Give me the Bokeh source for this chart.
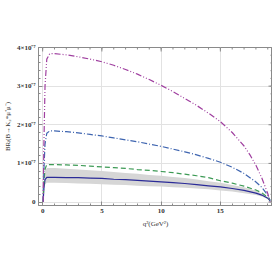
from bokeh.plotting import figure
from bokeh.models import FixedTicker, Range1d
from bokeh.embed import file_html
from bokeh.resources import INLINE

# q^2 in GeV^2, branching ratios in units of 1e-7
q2_purple = [0.045, 0.1, 0.2, 0.35, 0.6, 1, 2, 3, 4, 5, 6, 7, 8, 9, 10, 11, 12, 13, 14, 15, 16, 17, 17.5, 18, 18.5, 19, 19.2]
br_purple = [0.0, 1.4, 3.0, 3.7, 3.84, 3.84, 3.81, 3.76, 3.7, 3.63, 3.54, 3.43, 3.31, 3.17, 3.02, 2.86, 2.68, 2.5, 2.3, 2.08, 1.8, 1.45, 1.22, 0.95, 0.62, 0.22, 0.0]

q2_blue = [0.045, 0.1, 0.2, 0.35, 0.6, 1, 2, 3, 4, 5, 6, 7, 8, 9, 10, 11, 12, 13, 14, 15, 16, 17, 18, 18.5, 19, 19.2]
br_blue = [0.0, 0.8, 1.5, 1.78, 1.84, 1.84, 1.82, 1.79, 1.75, 1.71, 1.66, 1.61, 1.56, 1.5, 1.44, 1.37, 1.3, 1.22, 1.13, 1.03, 0.9, 0.74, 0.52, 0.38, 0.18, 0.04]

q2_green = [0.045, 0.1, 0.2, 0.35, 1, 2, 3, 4, 5, 6, 7, 8, 9, 10, 11, 12, 13, 14, 15, 16, 17, 18, 18.5, 19, 19.2]
br_green = [0.0, 0.5, 0.85, 0.97, 0.97, 0.96, 0.95, 0.93, 0.91, 0.89, 0.87, 0.84, 0.82, 0.79, 0.76, 0.72, 0.68, 0.63, 0.55, 0.49, 0.41, 0.31, 0.24, 0.12, 0.04]

q2_sm = [0.045, 0.1, 0.2, 0.35, 1, 2, 3, 4, 5, 6, 7, 8, 9, 10, 11, 12, 13, 14, 15, 16, 17, 18, 18.5, 19, 19.2]
br_sm = [0.0, 0.35, 0.58, 0.64, 0.64, 0.63, 0.63, 0.62, 0.61, 0.59, 0.58, 0.56, 0.54, 0.52, 0.5, 0.48, 0.45, 0.42, 0.39, 0.35, 0.3, 0.23, 0.18, 0.1, 0.03]
br_sm_hi = [0.0, 0.5, 0.8, 0.88, 0.88, 0.86, 0.84, 0.82, 0.8, 0.78, 0.75, 0.73, 0.7, 0.68, 0.65, 0.62, 0.58, 0.54, 0.5, 0.44, 0.38, 0.29, 0.22, 0.13, 0.04]
br_sm_lo = [0.0, 0.27, 0.45, 0.5, 0.5, 0.49, 0.48, 0.47, 0.46, 0.45, 0.44, 0.42, 0.41, 0.4, 0.38, 0.37, 0.35, 0.33, 0.3, 0.27, 0.23, 0.18, 0.14, 0.08, 0.02]

x_ticks = [0, 5, 10, 15]
x_minor = [float(i) for i in range(0, 20)]
y_ticks = [0, 1, 2, 3, 4]
y_minor = [round(i * 0.2, 2) for i in range(0, 21)]
y_tick_labels = {0: "0", 1: "1×10⁻⁷", 2: "2×10⁻⁷", 3: "3×10⁻⁷", 4: "4×10⁻⁷"}

FONT = "Liberation Serif"
FRAME = "#8a8a8a"
X0, X1 = -0.35, 19.4
Y0, Y1 = -0.09, 4.0

p = figure(frame_width=234, frame_height=158, output_backend="svg", toolbar_location=None,
           x_range=Range1d(X0, X1), y_range=Range1d(Y0, Y1),
           min_border_left=28, min_border_right=0, min_border_top=47, min_border_bottom=57,
           background_fill_color="white", border_fill_color="white")
p.outline_line_color = FRAME
p.outline_line_width = 1

x_ticker = FixedTicker(ticks=x_ticks, minor_ticks=x_minor)
y_ticker = FixedTicker(ticks=y_ticks, minor_ticks=y_minor)

for ax in [p.xaxis[0], p.yaxis[0]]:
    ax.axis_line_color = FRAME
    ax.major_tick_line_color = FRAME
    ax.minor_tick_line_color = FRAME
    ax.major_tick_in = 4
    ax.major_tick_out = 0
    ax.minor_tick_in = 2
    ax.minor_tick_out = 0
    ax.major_label_text_font = FONT
    ax.major_label_text_font_size = "7px"
    ax.major_label_text_font_style = "bold"
    ax.major_label_text_color = "#333333"
    ax.axis_label_text_font = FONT
    ax.axis_label_text_font_size = "7px"
    ax.axis_label_text_font_style = "normal"
    ax.axis_label_text_color = "#333333"

p.xaxis[0].ticker = x_ticker
p.yaxis[0].ticker = y_ticker
p.yaxis[0].major_label_overrides = y_tick_labels
p.xaxis[0].major_label_standoff = 3
p.yaxis[0].major_label_standoff = 3
p.xaxis[0].axis_label = "q²(GeV²)"
p.xaxis[0].axis_label_standoff = 4
p.yaxis[0].axis_label = "BRₗ(B→K₂*μ⁺μ⁻)"
p.yaxis[0].axis_label_standoff = 2

p.xgrid.ticker = x_ticker
p.ygrid.ticker = y_ticker
p.xgrid.grid_line_color = "#e2e2e2"
p.ygrid.grid_line_color = "#e2e2e2"

# frame ticks on top and right edges (unlabelled, as in the Mathematica frame)
p.ray(x=x_minor, y=[Y1] * len(x_minor), length=2, angle=-90, angle_units="deg",
      length_units="screen", line_color=FRAME, line_width=1)
p.ray(x=x_ticks, y=[Y1] * len(x_ticks), length=4, angle=-90, angle_units="deg",
      length_units="screen", line_color=FRAME, line_width=1)
p.ray(x=[X1] * len(y_minor), y=y_minor, length=2, angle=180, angle_units="deg",
      length_units="screen", line_color=FRAME, line_width=1)
p.ray(x=[X1] * len(y_ticks), y=y_ticks, length=4, angle=180, angle_units="deg",
      length_units="screen", line_color=FRAME, line_width=1)

# SM band and curve
p.varea(x=q2_sm, y1=br_sm_lo, y2=br_sm_hi, fill_color="#d6d6d6", fill_alpha=1.0)
p.line(q2_sm, br_sm, line_color="#2b2b98", line_width=1.2)
p.line(q2_green, br_green, line_color="#3d9a55", line_width=1.2, line_dash="5 3")
p.line(q2_blue, br_blue, line_color="#3f65b0", line_width=1.2, line_dash="6 2 1 2")
p.line(q2_purple, br_purple, line_color="#a040a0", line_width=1.2, line_dash="6 2 1 2 1 2")

open("out.html", "w").write(file_html(p, INLINE))
